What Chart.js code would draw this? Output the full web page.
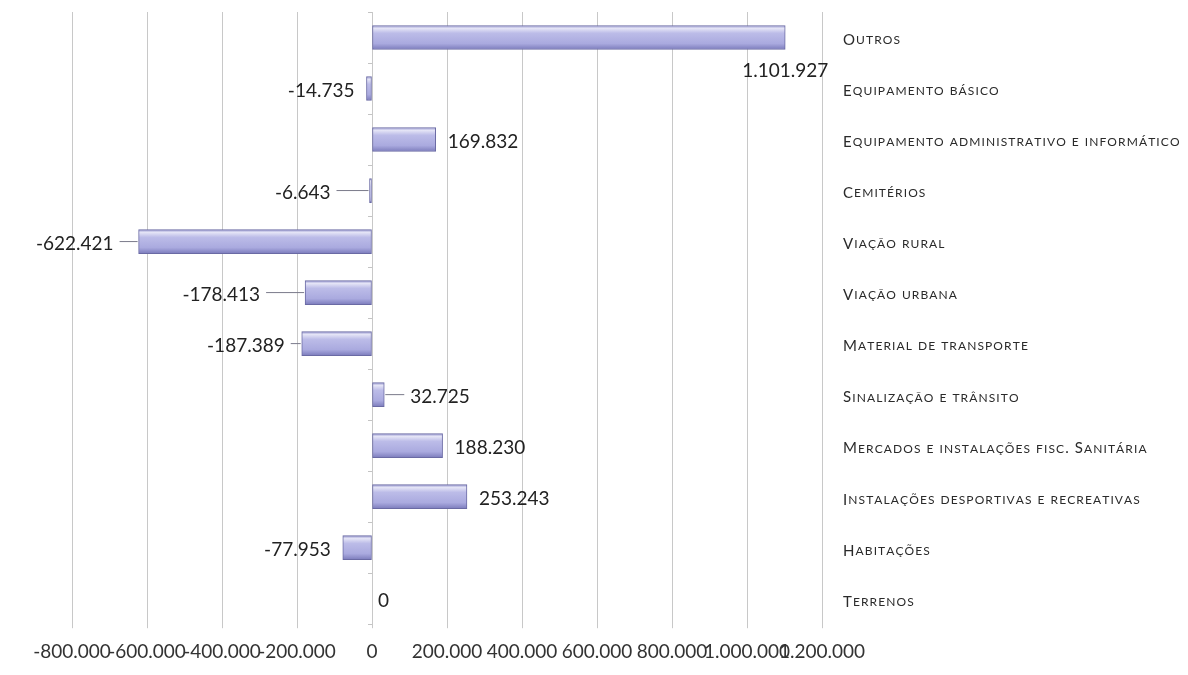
<!DOCTYPE html>
<html lang="pt">
<head>
    <meta charset="UTF-8">
    <title>Variação por rubrica</title>
    <script src="https://cdn.jsdelivr.net/npm/chart.js@4"></script>
    <style>
        html, body {
            margin: 0;
            padding: 0;
            background: #fff;
        }
        .chart-container {
            position: relative;
            width: 1188px;
            height: 675px;
        }
    </style>
</head>
<body>
    <div class="chart-container">
        <canvas id="chart"></canvas>
    </div>

    <script>
        // categories, top to bottom as in the picture
        const categories = [
            "Outros",
            "Equipamento básico",
            "Equipamento administrativo e informático",
            "Cemitérios",
            "Viação rural",
            "Viação urbana",
            "Material de transporte",
            "Sinalização e trânsito",
            "Mercados e instalações fisc. Sanitária",
            "Instalações desportivas e recreativas",
            "Habitações",
            "Terrenos"
        ];

        const values = [
            1101927, -14735, 169832, -6643, -622421, -178413,
            -187389, 32725, 188230, 253243, -77953, 0
        ];

        const axisMin = -800000;
        const axisMax = 1200000;
        const axisStep = 200000;

        // 1234567 -> "1.234.567"
        function fmt(n) {
            const s = Math.abs(Math.round(n)).toString().replace(/\B(?=(\d{3})+(?!\d))/g, '.');
            return (n < 0 ? '-' : '') + s;
        }

        const FONT = 'Lato, "Open Sans", sans-serif';

        // extra space between bar end and its label (leader line drawn when large)
        const labelGap = {
            "Cemitérios": 39,
            "Viação rural": 25,
            "Viação urbana": 45,
            "Material de transporte": 17,
            "Sinalização e trânsito": 26,
            "Terrenos": 6
        };

        function barGradient(context) {
            const chart = context.chart;
            const yScale = chart.scales.y;
            if (!chart.chartArea || !yScale) return '#b0b0e2';
            const y = yScale.getPixelForValue(context.dataIndex);
            const g = chart.ctx.createLinearGradient(0, y - 12, 0, y + 12);
            g.addColorStop(0, '#9a9ad0');
            g.addColorStop(0.12, '#e4e4f6');
            g.addColorStop(0.32, '#bcbce8');
            g.addColorStop(0.75, '#aaaadf');
            g.addColorStop(1, '#7c7cbc');
            return g;
        }

        // draw "small caps" text by hand: lowercase letters as smaller capitals
        function drawSmallCaps(ctx, text, x, y) {
            const big = 15, small = 12, track = 1.1;
            let cx = x;
            for (const ch of text) {
                const lower = ch !== ch.toUpperCase();
                ctx.font = (lower ? small : big) + 'px ' + FONT;
                const c = lower ? ch.toUpperCase() : ch;
                ctx.fillText(c, cx, y);
                cx += ctx.measureText(c).width + track;
            }
        }

        const labelsPlugin = {
            id: 'labelsPlugin',
            afterDatasetsDraw(chart) {
                const ctx = chart.ctx;
                const x = chart.scales.x;
                const y = chart.scales.y;
                ctx.save();
                ctx.textBaseline = 'middle';

                // small tick marks along the zero axis, between categories
                const x0 = x.getPixelForValue(0);
                ctx.strokeStyle = '#c4c4c4';
                ctx.lineWidth = 1;
                for (let i = 0; i <= categories.length; i++) {
                    const ty = Math.round(y.getPixelForValue(i - 0.5)) + 0.5;
                    ctx.beginPath();
                    ctx.moveTo(x0 - 4, ty);
                    ctx.lineTo(x0, ty);
                    ctx.stroke();
                }

                // value labels
                ctx.font = '19px ' + FONT;
                ctx.fillStyle = '#222';
                values.forEach((v, i) => {
                    const cy = y.getPixelForValue(i) + 2;
                    const end = x.getPixelForValue(v);
                    const txt = fmt(v);
                    const w = ctx.measureText(txt).width;
                    const gap = labelGap[categories[i]] || 12;
                    if (v >= 0 && end + gap + w > chart.chartArea.right) {
                        ctx.textAlign = 'center';
                        ctx.fillText(txt, end, cy + 31);
                        return;
                    }
                    if (v >= 0) {
                        ctx.textAlign = 'left';
                        ctx.fillText(txt, end + gap, cy);
                    } else {
                        ctx.textAlign = 'right';
                        ctx.fillText(txt, end - gap, cy);
                    }
                    if (gap > 14 && v !== 0) {
                        const dir = v >= 0 ? 1 : -1;
                        ctx.strokeStyle = '#7a7a8a';
                        ctx.lineWidth = 1;
                        ctx.beginPath();
                        ctx.moveTo(end + dir * 1, cy - 2);
                        ctx.lineTo(end + dir * (gap - 6), cy - 2);
                        ctx.stroke();
                    }
                });

                // category labels on the right
                ctx.textAlign = 'left';
                ctx.fillStyle = '#2a2a2a';
                categories.forEach((c, i) => {
                    drawSmallCaps(ctx, c, 843, y.getPixelForValue(i) + 3);
                });
                ctx.restore();
            }
        };

        new Chart(document.getElementById('chart'), {
            type: 'bar',
            data: {
                labels: categories,
                datasets: [{
                    data: values,
                    backgroundColor: barGradient,
                    borderColor: '#6a6aa4',
                    borderWidth: 1,
                    borderSkipped: false,
                    barThickness: 24
                }]
            },
            options: {
                indexAxis: 'y',
                responsive: true,
                maintainAspectRatio: false,
                animation: false,
                layout: {
                    padding: { left: 72, right: 366, top: 12, bottom: 0 }
                },
                plugins: {
                    legend: { display: false },
                    tooltip: { enabled: false }
                },
                scales: {
                    x: {
                        min: axisMin,
                        max: axisMax,
                        border: { display: false },
                        grid: {
                            color: '#c8c8c8',
                            lineWidth: 1,
                            tickLength: 4
                        },
                        ticks: {
                            stepSize: axisStep,
                            autoSkip: false,
                            maxRotation: 0,
                            padding: 12,
                            color: '#333',
                            font: { family: FONT, size: 19 },
                            callback: v => fmt(v)
                        }
                    },
                    y: {
                        display: false
                    }
                }
            },
            plugins: [labelsPlugin]
        });
    </script>
</body>
</html>
